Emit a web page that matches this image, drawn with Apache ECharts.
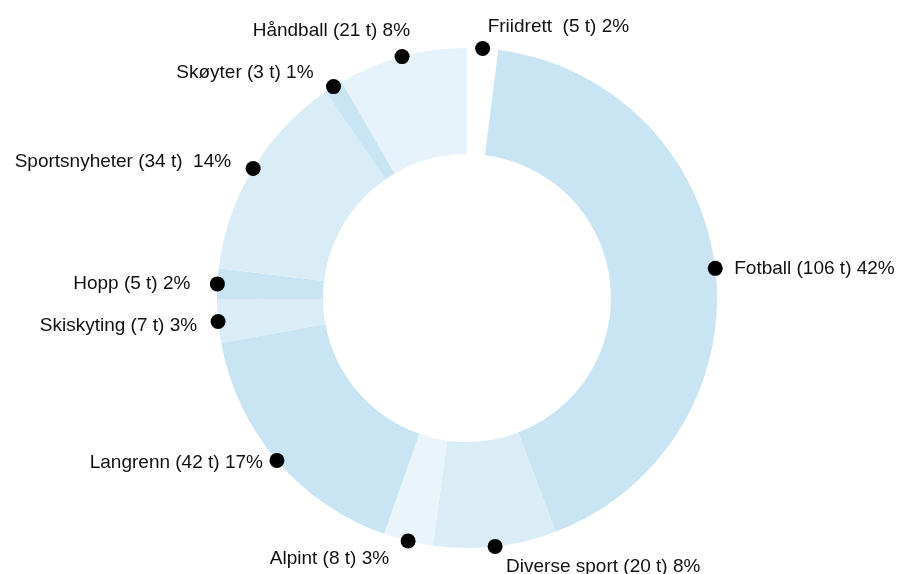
<!DOCTYPE html>
<html>
<head>
<meta charset="utf-8">
<script src="https://cdn.jsdelivr.net/npm/echarts@6/dist/echarts.min.js"></script>
<style>
  html, body { margin: 0; padding: 0; background: #ffffff; }
  #chart { width: 899px; height: 574px; }
</style>
</head>
<body>
<div id="chart"></div>
<script>
// Sports coverage by category, hours (t) and share of total
const categories = ['Friidrett', 'Fotball', 'Diverse sport', 'Alpint', 'Langrenn',
                    'Skiskyting', 'Hopp', 'Sportsnyheter', 'Skøyter', 'Håndball'];
const hours = [5, 106, 20, 8, 42, 7, 5, 34, 3, 21];
const labels = ['Friidrett  (5 t) 2%', 'Fotball (106 t) 42%', 'Diverse sport (20 t) 8%',
                'Alpint (8 t) 3%', 'Langrenn (42 t) 17%', 'Skiskyting (7 t) 3%',
                'Hopp (5 t) 2%', 'Sportsnyheter (34 t)  14%', 'Skøyter (3 t) 1%',
                'Håndball (21 t) 8%'];

// Slice fills, in the same order as the categories
const sliceColors = ['#ffffff', '#c9e4f3', '#daedf7', '#e9f5fb', '#c9e4f3',
                     '#daedf7', '#c9e4f3', '#daedf7', '#c9e4f3', '#e6f3fa'];

// Label placement relative to each marker dot: [dx, dy, align]
const labelPlacement = [
  [5, -22, 'left'], [19, 0, 'left'], [11, 20, 'left'], [-19, 18, 'right'],
  [-14, 2, 'right'], [-21, 4, 'right'], [-27, 0, 'right'], [-22, -7, 'right'],
  [-20, -14, 'right'], [8, -26, 'right']
];

const CENTER = [467, 298];
const OUTER = 250;
const INNER = 144;
const DOT = 15;

const total = hours.reduce((a, b) => a + b, 0);

// Angular midpoint of each slice, in hour units, for the marker dots
const midpoints = [];
let acc = 0;
hours.forEach(h => { midpoints.push(acc + h / 2); acc += h; });

const dotData = categories.map((name, i) => {
  const p = labelPlacement[i];
  return {
    name: name,
    value: [1, midpoints[i]],
    label: {
      show: true,
      formatter: labels[i],
      position: [DOT / 2 + p[0], DOT / 2 + p[1]],
      align: p[2],
      verticalAlign: 'middle'
    }
  };
});

const chart = echarts.init(document.getElementById('chart'));
chart.setOption({
  animation: false,
  backgroundColor: '#ffffff',
  polar: { center: CENTER, radius: OUTER },
  angleAxis: {
    type: 'value', min: 0, max: total, startAngle: 90, clockwise: true,
    show: false
  },
  radiusAxis: { type: 'value', min: 0, max: 1, show: false },
  series: [
    {
      type: 'pie',
      center: CENTER,
      radius: [INNER, OUTER],
      startAngle: 90,
      clockwise: true,
      avoidLabelOverlap: false,
      label: { show: false },
      labelLine: { show: false },
      emphasis: { disabled: true },
      itemStyle: { borderWidth: 0 },
      data: categories.map((name, i) => ({
        name: name,
        value: hours[i],
        itemStyle: { color: sliceColors[i] }
      }))
    },
    {
      type: 'scatter',
      coordinateSystem: 'polar',
      symbol: 'circle',
      symbolSize: DOT,
      itemStyle: { color: '#000000', opacity: 1 },
      label: {
        fontFamily: 'Liberation Sans',
        fontSize: 19,
        color: '#111111',
        opacity: 1
      },
      emphasis: { disabled: true },
      z: 5,
      data: dotData
    }
  ]
});
</script>
</body>
</html>
